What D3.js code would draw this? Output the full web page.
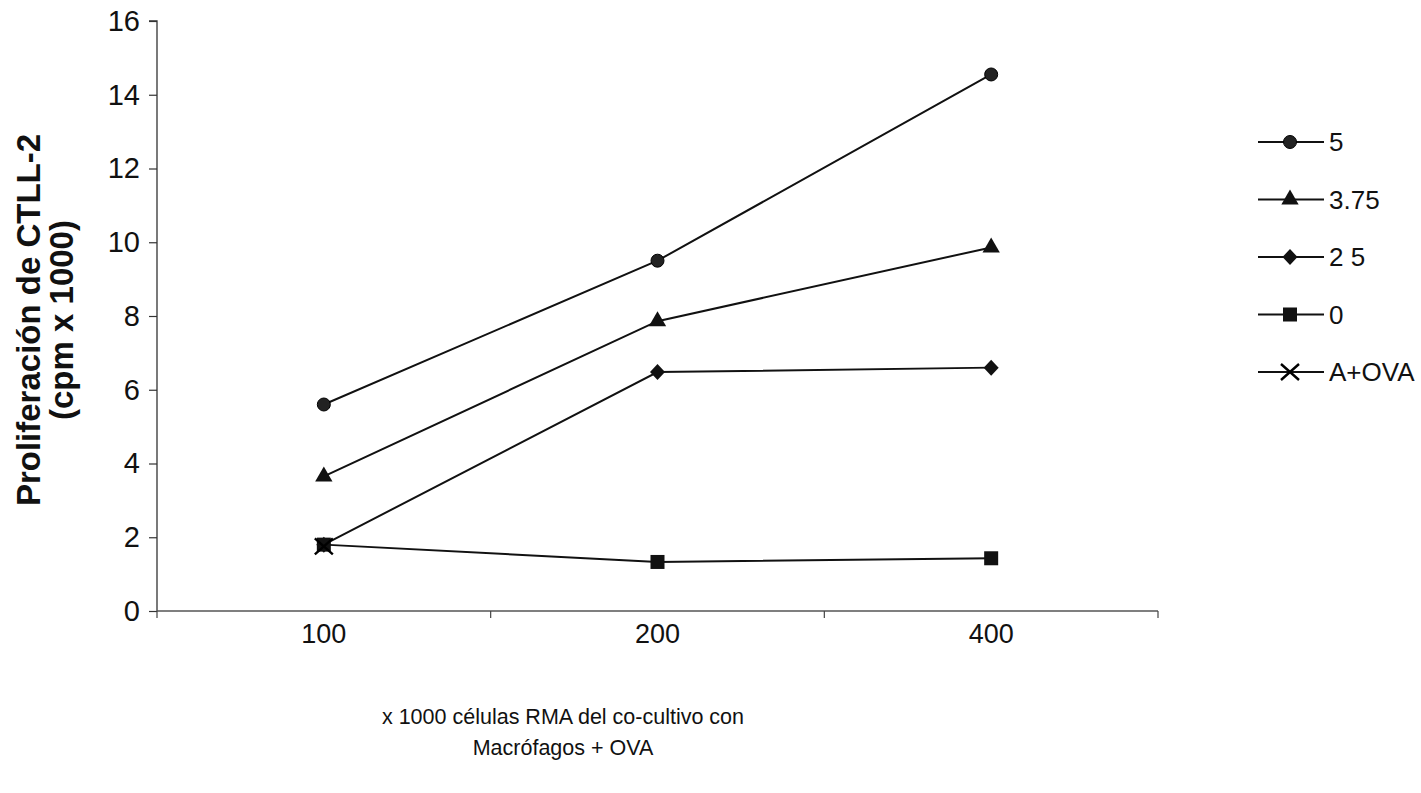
<!DOCTYPE html>
<html>
<head>
<meta charset="utf-8">
<script src="https://cdn.jsdelivr.net/npm/d3@7"></script>
<style>
  html, body { margin: 0; padding: 0; background: #fff; }
  svg { display: block; }
  text { font-family: Arial, "Liberation Sans", sans-serif; fill: #111; }
</style>
</head>
<body>
<svg id="chart" width="1421" height="793"></svg>
<script>
// Cell counts (x 1000 RMA cells) on the category axis
const categories = ["100", "200", "400"];

// CTLL-2 proliferation (cpm x 1000) for each OVA dose
const seriesNames = ["5", "3.75", "2 5", "0", "A+OVA"];
const values5    = [5.6, 9.5, 14.55];
const values375  = [3.65, 7.86, 9.86];
const values25   = [1.8, 6.48, 6.6];
const values0    = [1.8, 1.33, 1.43];
const valuesAOVA = [1.75, null, null];

const yTicks = [0, 2, 4, 6, 8, 10, 12, 14, 16];

const series = [
  { name: seriesNames[0], values: values5,    symbol: "circle" },
  { name: seriesNames[1], values: values375,  symbol: "triangle" },
  { name: seriesNames[2], values: values25,   symbol: "diamond" },
  { name: seriesNames[3], values: values0,    symbol: "square" },
  { name: seriesNames[4], values: valuesAOVA, symbol: "cross" }
];

const svg = d3.select("#chart");
const plot = { left: 157, right: 1158, top: 21, bottom: 611 };

const x = d3.scaleBand().domain(categories).range([plot.left, plot.right]);
const y = d3.scaleLinear().domain([0, 16]).range([plot.bottom, plot.top]);
const cx = c => x(c) + x.bandwidth() / 2;

// Marker drawing
function drawMarker(g, type, px, py) {
  if (type === "circle") {
    g.append("circle").attr("cx", px).attr("cy", py).attr("r", 6.5)
      .attr("fill", "#222").attr("stroke", "#000").attr("stroke-width", 1);
  } else if (type === "triangle") {
    g.append("path").attr("d", d3.symbol(d3.symbolTriangle, 130)())
      .attr("transform", `translate(${px},${py})`).attr("fill", "#111");
  } else if (type === "diamond") {
    g.append("path").attr("d", `M0,-8L7.5,0L0,8L-7.5,0Z`)
      .attr("transform", `translate(${px},${py})`).attr("fill", "#111");
  } else if (type === "square") {
    g.append("rect").attr("x", px - 7).attr("y", py - 7).attr("width", 14).attr("height", 14)
      .attr("fill", "#111");
  } else if (type === "cross") {
    g.append("path").attr("d", "M-9,-8L9,8M-9,8L9,-8")
      .attr("transform", `translate(${px},${py})`)
      .attr("stroke", "#000").attr("stroke-width", 2.4).attr("fill", "none");
  }
}

// Y axis
const yAxis = d3.axisLeft(y).tickValues(yTicks).tickSize(8).tickPadding(9);
const gy = svg.append("g").attr("transform", `translate(${plot.left},0)`).call(yAxis);
gy.select(".domain").attr("stroke", "#333").attr("stroke-width", 1.3).attr("d", `M-8,${plot.top}H0V${plot.bottom}`);
gy.selectAll(".tick line").attr("stroke", "#333").attr("stroke-width", 1.2);
gy.selectAll(".tick text").style("font-size", "29px").style("font-family", "Arial, 'Liberation Sans', sans-serif").attr("fill", "#111");

// X axis line with boundary ticks between categories
const xBoundaries = categories.map(c => x(c)).concat([plot.right]);
svg.append("line").attr("x1", plot.left).attr("x2", plot.right)
  .attr("y1", plot.bottom).attr("y2", plot.bottom)
  .attr("stroke", "#555").attr("stroke-width", 1.3);
svg.selectAll(".xtick").data(xBoundaries).enter().append("line")
  .attr("x1", d => d).attr("x2", d => d)
  .attr("y1", plot.bottom).attr("y2", plot.bottom + 7)
  .attr("stroke", "#444").attr("stroke-width", 1.2);
svg.selectAll(".xlabel").data(categories).enter().append("text")
  .attr("x", d => cx(d)).attr("y", 643)
  .attr("text-anchor", "middle").style("font-size", "27px").text(d => d);

// Series lines and markers
const line = d3.line()
  .defined(d => d.v !== null)
  .x(d => cx(d.c)).y(d => y(d.v));

series.forEach(s => {
  const pts = s.values.map((v, i) => ({ c: categories[i], v }));
  svg.append("path").datum(pts).attr("d", line)
    .attr("fill", "none").attr("stroke", "#111").attr("stroke-width", 2);
});
series.forEach(s => {
  const g = svg.append("g");
  s.values.forEach((v, i) => {
    if (v !== null) drawMarker(g, s.symbol, cx(categories[i]), y(v));
  });
});

// Legend
const legendY = d3.scalePoint().domain(seriesNames).range([142, 372]);
series.forEach(s => {
  const ly = legendY(s.name);
  const g = svg.append("g");
  g.append("line").attr("x1", 1258).attr("x2", 1324).attr("y1", ly).attr("y2", ly)
    .attr("stroke", "#111").attr("stroke-width", 2);
  drawMarker(g, s.symbol, 1290, ly);
  g.append("text").attr("x", 1329).attr("y", ly + 9)
    .style("font-size", "26px").text(s.name);
});

// Axis titles
const yTitle = svg.append("text")
  .attr("transform", `translate(40,320) rotate(-90)`)
  .attr("text-anchor", "middle")
  .style("font-size", "33px").style("font-weight", "bold");
yTitle.append("tspan").attr("x", 0).attr("dy", 0).text("Proliferación de CTLL-2");
yTitle.append("tspan").attr("x", 0).attr("dy", 33).text("(cpm x 1000)");

const xTitle = svg.append("text")
  .attr("text-anchor", "middle").style("font-size", "21.5px");
xTitle.append("tspan").attr("x", 563).attr("y", 724).text("x 1000 células RMA del co-cultivo con");
xTitle.append("tspan").attr("x", 563).attr("y", 755).text("Macrófagos + OVA");
</script>
</body>
</html>
